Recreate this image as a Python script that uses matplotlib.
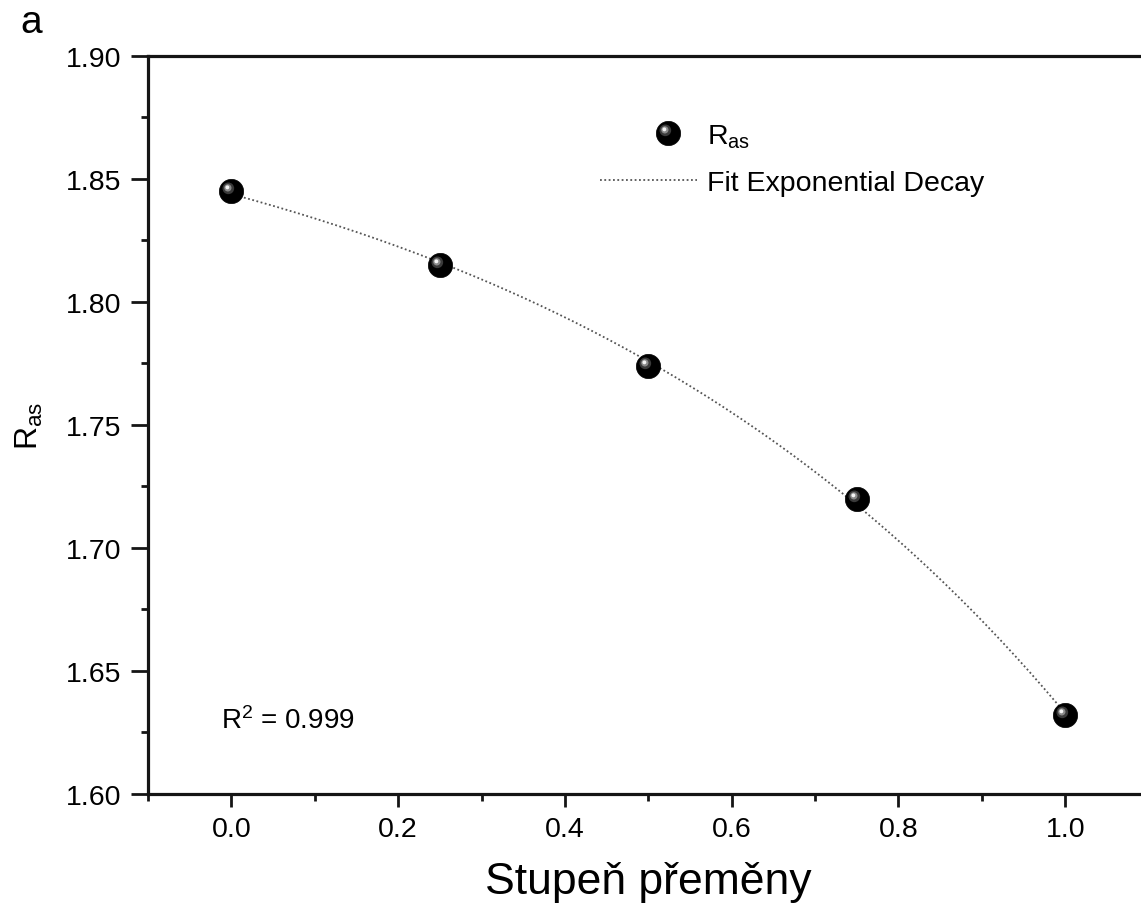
import numpy as np
import matplotlib
matplotlib.use("Agg")
import matplotlib.pyplot as plt
from matplotlib.path import Path
from matplotlib.legend_handler import HandlerTuple
from matplotlib.ticker import MultipleLocator, FormatStrFormatter

plt.rcParams['font.family'] = ['Liberation Sans', 'DejaVu Sans']
plt.rcParams['mathtext.fontset'] = 'custom'
plt.rcParams['mathtext.rm'] = 'Liberation Sans'
plt.rcParams['mathtext.it'] = 'Liberation Sans:italic'

# Conversion degree vs. R_as
conversion = [0.0, 0.25, 0.50, 0.75, 1.00]
r_as = [1.845, 1.815, 1.774, 1.720, 1.632]
x_ticks = [0.0, 0.2, 0.4, 0.6, 0.8, 1.0]
y_ticks = [1.60, 1.65, 1.70, 1.75, 1.80, 1.85, 1.90]
r2_label = r"R$^{2}$ = 0.999"

x = np.asarray(conversion)
y = np.asarray(r_as)

# Exponential fit y = y0 + A*exp(k*x): scan k, linear least squares for y0, A
best = None
for k in np.linspace(0.05, 8.0, 4000):
    M = np.column_stack([np.ones_like(x), np.exp(k * x)])
    coef, *_ = np.linalg.lstsq(M, y, rcond=None)
    sse = np.sum((M @ coef - y) ** 2)
    if best is None or sse < best[0]:
        best = (sse, k, coef)
_, k_fit, (y0_fit, a_fit) = best
x_fit = np.linspace(x.min(), x.max(), 300)
y_fit = y0_fit + a_fit * np.exp(k_fit * x_fit)

# Sphere look: black ball with an offset glossy highlight
def offset_disc(cx, cy, r):
    anchor = Path([[0.5, 0.5], [-0.5, -0.5]], [Path.MOVETO, Path.MOVETO])
    circ = Path.circle((cx, cy), r)
    return Path.make_compound_path(anchor, circ)

glow = offset_disc(-0.13, 0.13, 0.24)
mid = offset_disc(-0.15, 0.15, 0.15)
shine = offset_disc(-0.17, 0.17, 0.08)


class ShiftedTuple(HandlerTuple):
    """Overlaid tuple handle, nudged to the right inside the handle box."""
    def __init__(self, shift=14, **kw):
        super().__init__(**kw)
        self.shift = shift

    def create_artists(self, legend, orig_handle, xdescent, ydescent,
                       width, height, fontsize, trans):
        return super().create_artists(legend, orig_handle, xdescent - self.shift,
                                      ydescent, width, height, fontsize, trans)


fig = plt.figure(figsize=(11.41, 9.04), dpi=100)
ax = fig.add_axes([0.1297, 0.1206, 0.877, 0.8164])

fit_line, = ax.plot(x_fit, y_fit, color='#555555', lw=1.3,
                    linestyle=(0, (1, 1.4)), zorder=2)

ms = 17.5
ball, = ax.plot(x, y, 'o', ms=ms, color='black', mec='black', mew=0.5, zorder=3)
ball_glow, = ax.plot(x, y, marker=glow, ms=ms, ls='none', color='#3a3a3a', mew=0, zorder=4)
ball_mid, = ax.plot(x, y, marker=mid, ms=ms, ls='none', color='#8a8a8a', mew=0, zorder=5)
ball_shine, = ax.plot(x, y, marker=shine, ms=ms, ls='none', color='#f4f4f4', mew=0, zorder=6)

ax.set_xlim(-0.1, 1.1)
ax.set_ylim(1.60, 1.90)
ax.set_xticks(x_ticks)
ax.set_yticks(y_ticks)
ax.xaxis.set_minor_locator(MultipleLocator(0.1))
ax.yaxis.set_minor_locator(MultipleLocator(0.025))
ax.xaxis.set_major_formatter(FormatStrFormatter('%.1f'))
ax.yaxis.set_major_formatter(FormatStrFormatter('%.2f'))

for side in ['top', 'left', 'bottom', 'right']:
    ax.spines[side].set_linewidth(2.3)
    ax.spines[side].set_color('#151515')

ax.tick_params(axis='both', which='both', direction='out', width=2.0,
               color='#151515', top=False, right=False)
ax.tick_params(axis='x', which='major', length=9.5, pad=6, labelsize=20.5)
ax.tick_params(axis='x', which='minor', length=5)
ax.tick_params(axis='y', which='major', length=12, pad=7, labelsize=20.5)
ax.tick_params(axis='y', which='minor', length=5)

ax.set_xlabel('Stupeň přeměny', fontsize=32, labelpad=14)
ax.set_ylabel(r'R$_{\mathrm{as}}$', fontsize=23)
ax.yaxis.set_label_coords(-0.103, 0.5)

ax.text(0.073, 0.1, r2_label, transform=ax.transAxes, fontsize=20,
        ha='left', va='center')

fig.text(0.018, 0.975, 'a', fontsize=28, ha='left', va='center')

ax.legend([(ball, ball_glow, ball_mid, ball_shine), fit_line],
          [r'R$_{\mathrm{as}}$', 'Fit Exponential Decay'],
          handler_map={tuple: ShiftedTuple(shift=14, ndivide=1)},
          loc='upper left', bbox_to_anchor=(0.452, 0.91),
          frameon=False, fontsize=20.5, handlelength=3.4,
          handletextpad=0.35, labelspacing=0.7, borderpad=0, borderaxespad=0)

fig.savefig('out.png', dpi=100)
